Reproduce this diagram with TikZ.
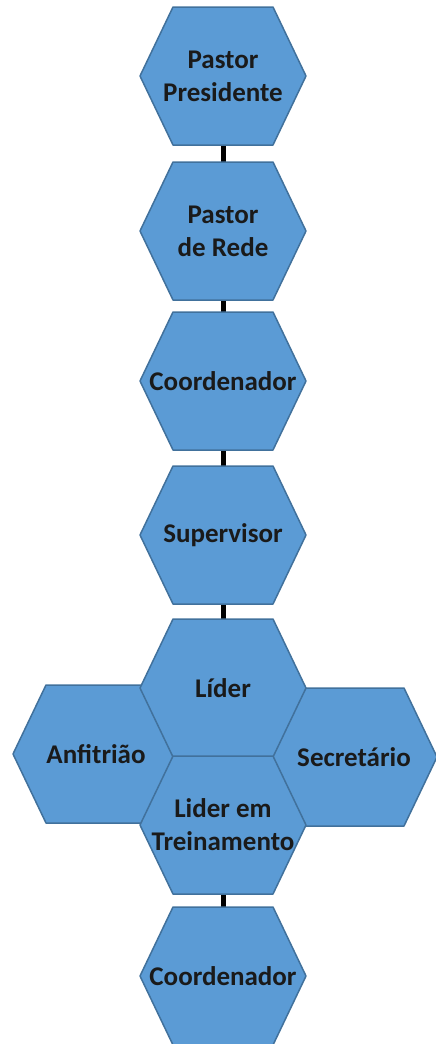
\documentclass[tikz,border=0pt]{standalone}
\usepackage{fontspec}
\setmainfont{Carlito}
\usetikzlibrary{backgrounds}
\definecolor{hexblue}{HTML}{5B9BD5}
\definecolor{hexedge}{HTML}{41719C}
\definecolor{textdark}{HTML}{1A1A1A}
\begin{document}
\begin{tikzpicture}[x=1pt, y=-1pt,
    hexcell/.style={minimum width=166pt, minimum height=138pt, inner sep=0pt, align=center,
        text=textdark, font=\fontsize{27}{33}\selectfont\bfseries},
    hexshape/.style={fill=hexblue, draw=hexedge, line width=1.5pt, line join=round},
    link/.style={line width=5pt, black}]
    \useasboundingbox (0,0) rectangle (436,1044);

    \node[hexcell] (presidente) at (223,76) {Pastor\\Presidente};
    \node[hexcell] (rede) at (223,231) {Pastor\\de Rede};
    \node[hexcell] (coord) at (223,381) {Coordenador};
    \node[hexcell] (supervisor) at (223,535) {Supervisor};
    \node[hexcell] (anfitriao) at (96,754) {Anfitrião};
    \node[hexcell] (secretario) at (354,757) {Secretário};
    \node[hexcell] (lider) at (223,688) {Líder};
    \node[hexcell] (treinamento) at (223,825) {Lider em\\Treinamento};
    \node[hexcell] (coordb) at (223,976) {Coordenador};

    \begin{scope}[on background layer]
        \draw[link] (presidente) -- (rede);
        \draw[link] (rede) -- (coord);
        \draw[link] (coord) -- (supervisor);
        \draw[link] (supervisor) -- (lider);
        \draw[link] (treinamento) -- (coordb);
        % hexagons behind the labels
        \foreach \cell in {presidente, rede, coord, supervisor, anfitriao, secretario, lider, treinamento, coordb}
            \filldraw[hexshape, shift={(\cell.center)}]
                (-50pt,69pt) -- (50pt,69pt) -- (83pt,0pt) -- (50pt,-69pt) -- (-50pt,-69pt) -- (-83pt,0pt) -- cycle;
    \end{scope}
\end{tikzpicture}
\end{document}
